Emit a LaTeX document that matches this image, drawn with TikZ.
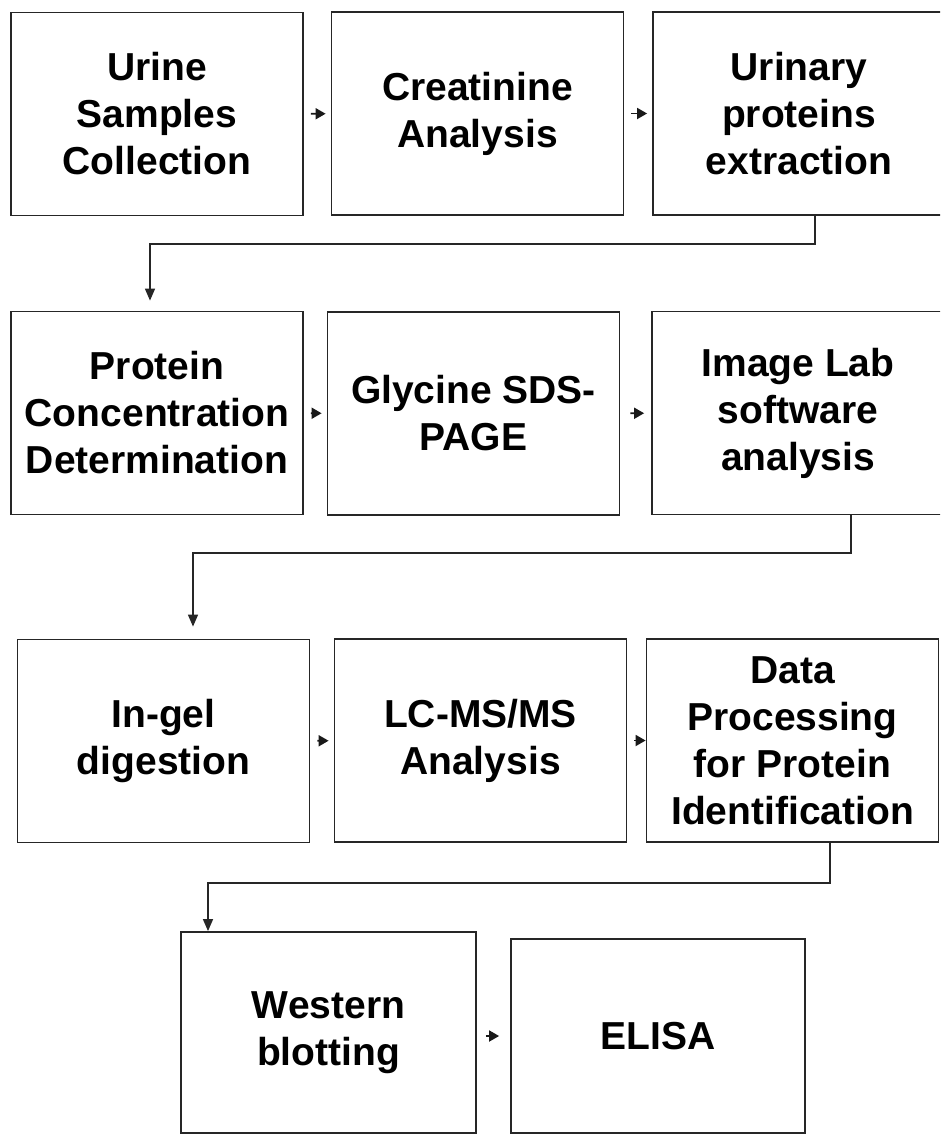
\documentclass[tikz,border=0pt]{standalone}
\usepackage{fontspec}
\setmainfont{Liberation Sans}
\usepackage{tikz}
\usetikzlibrary{positioning,arrows.meta,calc}

\begin{document}
\begin{tikzpicture}[
  x=1pt, y=1pt,
  font=\fontsize{39}{47}\selectfont\bfseries,
  box/.style={draw=black!85, line width=1.8pt, fill=white, align=center, inner sep=0pt,
              minimum width=292pt, minimum height=203pt},
  arr/.style={-{Triangle[length=10pt,width=11pt]}, line width=1.8pt, color=black!90,
              shorten <=7pt, shorten >=5pt},
  link/.style={-{Triangle[length=12pt,width=10pt]}, line width=1.5pt, color=black!85},
]
\useasboundingbox (0,0) rectangle (940,-1135);
\clip (0,0) rectangle (940,-1135);

% row 1
\node[box] (urine)   at (157,-114)   {Urine\\Samples\\Collection};
\node[box] (creat)   at (477.5,-113.5) {Creatinine\\Analysis};
\node[box] (extract) at (799,-113.5) {Urinary\\proteins\\extraction};

% row 2
\node[box] (conc)   at (157,-413)   {Protein\\Concentration\\Determination};
\node[box] (sds)    at (473.5,-413.5) {Glycine SDS-\\PAGE};
\node[box] (imglab) at (798,-413)   {Image Lab\\software\\analysis};

% row 3
\node[box] (ingel)    at (163.5,-741) {In-gel\\digestion};
\node[box] (lcms)     at (480.5,-740.5) {LC-MS/MS\\Analysis};
\node[box] (dataproc) at (792.5,-740.5) {Data\\Processing\\for Protein\\Identification};

% row 4 (cut at the bottom edge)
\node[box, minimum width=295pt, minimum height=201pt] (western) at (328.5,-1032.5) {Western\\blotting};
\node[box, minimum width=294pt, minimum height=194pt] (elisa)   at (658,-1036) {ELISA};

% steps inside a row
\draw[arr] (urine) -- (creat);
\draw[arr] (creat) -- (extract);
\draw[arr] (conc) -- (sds);
\draw[arr, shorten <=10pt, shorten >=7pt] (sds) -- (imglab);
\draw[arr] (ingel) -- (lcms);
\draw[arr, shorten >=0pt] (lcms) -- (dataproc);
\draw[arr, shorten <=9pt, shorten >=11pt] (western.east |- elisa) -- (elisa.west);

% row to row
\coordinate (r1a) at (815,-244);
\coordinate (r1b) at (150,-244);
\draw[link, shorten >=10pt] (extract.south -| r1a) -- (r1a) -- (r1b) -- (conc.north -| r1b);

\coordinate (r2a) at (851,-553);
\coordinate (r2b) at (193,-553);
\draw[link, shorten >=12pt] (imglab.south -| r2a) -- (r2a) -- (r2b) -- (ingel.north -| r2b);

\coordinate (r3a) at (830,-883);
\coordinate (r3b) at (208,-883);
\draw[link] (dataproc.south -| r3a) -- (r3a) -- (r3b) -- (western.north -| r3b);
\end{tikzpicture}
\end{document}
